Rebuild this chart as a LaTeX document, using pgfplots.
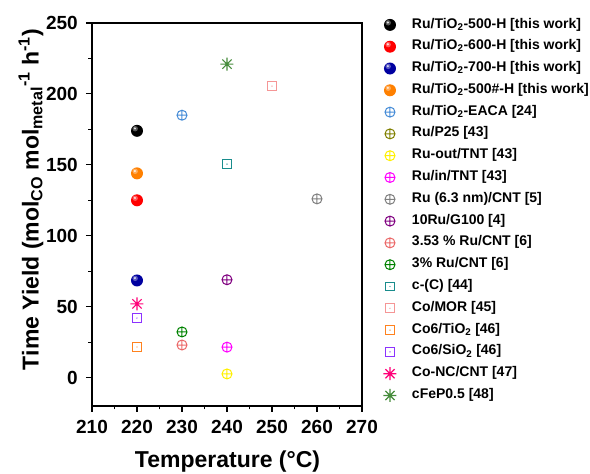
\documentclass[border=0pt]{standalone}
\usepackage{fontspec}
\setmainfont{Liberation Sans}
\usepackage{pgfplots}
\pgfplotsset{compat=1.18}

\definecolor{navyball}{RGB}{0,0,160}
\definecolor{orangeball}{RGB}{255,128,0}
\definecolor{eaca}{RGB}{70,140,215}
\definecolor{pquinze}{RGB}{128,128,0}
\definecolor{outtnt}{RGB}{255,240,0}
\definecolor{intnt}{RGB}{255,0,255}
\definecolor{cntgray}{RGB}{128,128,128}
\definecolor{gpurple}{RGB}{128,0,128}
\definecolor{rucntred}{RGB}{235,105,105}
\definecolor{rucntgreen}{RGB}{0,130,0}
\definecolor{cteal}{RGB}{25,140,140}
\definecolor{mor}{RGB}{245,150,150}
\definecolor{cotio}{RGB}{255,130,30}
\definecolor{cosio}{RGB}{140,50,255}
\definecolor{conc}{RGB}{255,0,120}
\definecolor{fep}{RGB}{70,140,60}

% glossy sphere: flat disc plus a soft highlight
\pgfdeclareplotmark{sphere}{%
  \pgfpathcircle{\pgfpointorigin}{\pgfplotmarksize}\pgfusepathqfill
  \begin{pgfscope}
    \pgfsetfillcolor{white}\pgfsetfillopacity{0.35}%
    \pgfpathcircle{\pgfqpoint{-.3\pgfplotmarksize}{.35\pgfplotmarksize}}{.45\pgfplotmarksize}\pgfusepathqfill
    \pgfsetfillopacity{0.8}%
    \pgfpathcircle{\pgfqpoint{-.35\pgfplotmarksize}{.4\pgfplotmarksize}}{.2\pgfplotmarksize}\pgfusepathqfill
  \end{pgfscope}}
% square with a dot in the middle
\pgfdeclareplotmark{sqdot}{%
  \pgfpathrectangle{\pgfqpoint{-\pgfplotmarksize}{-\pgfplotmarksize}}{\pgfqpoint{2\pgfplotmarksize}{2\pgfplotmarksize}}%
  \pgfusepathqstroke
  \pgfpathcircle{\pgfpointorigin}{0.7pt}\pgfusepathqfill}
% eight-armed star
\pgfdeclareplotmark{star8}{%
  \pgfpathmoveto{\pgfqpoint{-\pgfplotmarksize}{0pt}}\pgfpathlineto{\pgfqpoint{\pgfplotmarksize}{0pt}}%
  \pgfpathmoveto{\pgfqpoint{0pt}{-\pgfplotmarksize}}\pgfpathlineto{\pgfqpoint{0pt}{\pgfplotmarksize}}%
  \pgfpathmoveto{\pgfqpoint{-.7071\pgfplotmarksize}{-.7071\pgfplotmarksize}}\pgfpathlineto{\pgfqpoint{.7071\pgfplotmarksize}{.7071\pgfplotmarksize}}%
  \pgfpathmoveto{\pgfqpoint{-.7071\pgfplotmarksize}{.7071\pgfplotmarksize}}\pgfpathlineto{\pgfqpoint{.7071\pgfplotmarksize}{-.7071\pgfplotmarksize}}%
  \pgfusepathqstroke}

\pgfplotsset{
  ballpt/.style={only marks, mark=sphere, mark size=6pt, color=#1},
  opl/.style={only marks, mark=oplus, mark size=5pt, color=#1, mark options={line width=1pt}},
  sqd/.style={only marks, mark=sqdot, mark size=4.4pt, color=#1, mark options={line width=1.1pt}},
  st8/.style={only marks, mark=star8, mark size=6.5pt, color=#1, mark options={line width=1.2pt}},
}

\begin{document}
\begin{tikzpicture}
\useasboundingbox (-92pt,-68pt) rectangle (498pt,406pt);
\begin{axis}[
    scale only axis,
    width=270pt, height=383pt,
    xmin=210, xmax=270, ymin=-20, ymax=250,
    xtick={210,220,...,270}, ytick={0,50,...,250},
    minor xtick={215,225,...,265}, minor ytick={-25,25,75,...,225},
    tick pos=left, tick align=outside,
    major tick length=6pt, minor tick length=3.5pt,
    axis line style={line width=1.2pt},
    every tick/.style={line width=1.1pt, black},
    /pgf/number format/assume math mode=true,
    ticklabel style={font=\fontsize{19}{19}\selectfont\bfseries},
    xticklabel style={inner sep=0pt, yshift=-8.5pt},
    yticklabel style={inner sep=0pt, xshift=-8pt},
    xlabel={Temperature (°C)},
    ylabel={Time Yield (mol\textsubscript{CO} mol\textsubscript{metal}\textsuperscript{-1} h\textsuperscript{-1})},
    every axis x label/.style={at={(axis description cs:0.502,-0.161)}, anchor=base,
      font=\fontsize{23}{23}\selectfont\bfseries},
    every axis y label/.style={at={(axis description cs:-0.226,0.539)}, rotate=90, anchor=center,
      font=\fontsize{23}{23}\selectfont\bfseries},
    legend style={at={(axis description cs:1,1)}, anchor=north west, xshift=21.5pt, yshift=9pt,
      draw=none, fill=none, inner sep=0pt, outer sep=0pt,
      font=\fontsize{14}{14}\selectfont\bfseries, row sep=0pt,
      nodes={inner sep=0pt, text height=14pt, text depth=7.8pt},
      /tikz/every odd column/.append style={column sep=15.5pt}},
    legend cell align=left,
]
\addplot[ballpt=black] coordinates {(220,174)};
\addlegendentry{Ru/TiO\textsubscript{2}-500-H [this work]}
\addplot[ballpt=red] coordinates {(220,125)};
\addlegendentry{Ru/TiO\textsubscript{2}-600-H [this work]}
\addplot[ballpt=navyball] coordinates {(220,68.5)};
\addlegendentry{Ru/TiO\textsubscript{2}-700-H [this work]}
\addplot[ballpt=orangeball] coordinates {(220,144)};
\addlegendentry{Ru/TiO\textsubscript{2}-500\#-H [this work]}
\addplot[opl=eaca] coordinates {(230,185)};
\addlegendentry{Ru/TiO\textsubscript{2}-EACA [24]}
\addlegendimage{opl=pquinze}
\addlegendentry{Ru/P25 [43]}
\addplot[opl=outtnt] coordinates {(240,2.6)};
\addlegendentry{Ru-out/TNT [43]}
\addplot[opl=intnt] coordinates {(240,21.5)};
\addlegendentry{Ru/in/TNT [43]}
\addplot[opl=cntgray] coordinates {(260,126)};
\addlegendentry{Ru (6.3 nm)/CNT [5]}
\addplot[opl=gpurple] coordinates {(240,69)};
\addlegendentry{10Ru/G100 [4]}
\addplot[opl=rucntred] coordinates {(230,23)};
\addlegendentry{3.53 \% Ru/CNT [6]}
\addplot[opl=rucntgreen] coordinates {(230,32.2)};
\addlegendentry{3\% Ru/CNT [6]}
\addplot[sqd=cteal] coordinates {(240,150.5)};
\addlegendentry{c-(C) [44]}
\addplot[sqd=mor] coordinates {(250,205.5)};
\addlegendentry{Co/MOR [45]}
\addplot[sqd=cotio] coordinates {(220,21.6)};
\addlegendentry{Co6/TiO\textsubscript{2} [46]}
\addplot[sqd=cosio] coordinates {(220,42)};
\addlegendentry{Co6/SiO\textsubscript{2} [46]}
\addplot[st8=conc] coordinates {(220,52)};
\addlegendentry{Co-NC/CNT [47]}
\addplot[st8=fep] coordinates {(240,221)};
\addlegendentry{cFeP0.5 [48]}
\draw[line width=1.2pt] (rel axis cs:0,1) -- (rel axis cs:1,1) -- (rel axis cs:1,0);
\end{axis}
\end{tikzpicture}
\end{document}
